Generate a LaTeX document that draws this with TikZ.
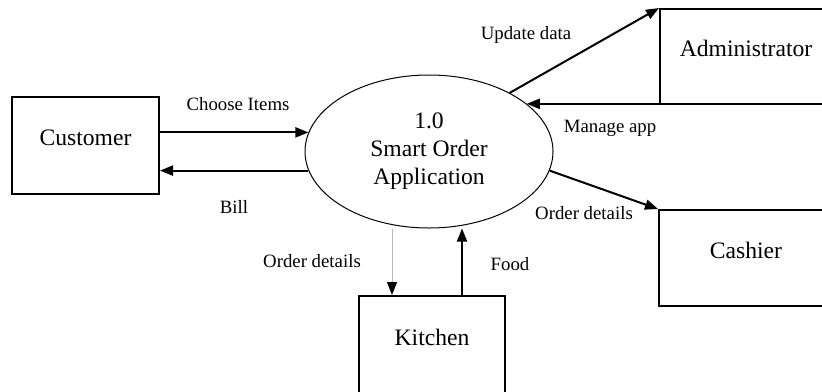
\documentclass[tikz,border=0pt]{standalone}
\usepackage{fontspec}
\setmainfont{Liberation Serif}
\usetikzlibrary{shapes.geometric,arrows.meta}
\begin{document}
\begin{tikzpicture}[x=0.5pt,y=-0.5pt,
    >={Triangle[length=6.5pt,width=5pt]},
    box/.style={draw,line width=1pt,inner sep=0pt,text height=8pt,text depth=8pt,
      font=\fontsize{11.8}{14}\selectfont},
    flow/.style={line width=1pt,->},
    lbl/.style={inner sep=0pt,font=\fontsize{9.4}{11}\selectfont}]
  \useasboundingbox (0,0) rectangle (822,391);
  \clip (0,0) rectangle (822,391);
  % process and entities
  \node [draw,ellipse,line width=0.5pt,inner sep=0pt,minimum width=124pt,
    minimum height=76.5pt,align=center,font=\fontsize{11.8}{14}\selectfont]
    (app) at (429,151.5) {1.0\\Smart Order\\Application};
  \node [box,minimum width=73.5pt,minimum height=48.5pt] (cust) at (85.5,145.5) {Customer};
  \node [box,minimum width=86pt,minimum height=47.5pt] (admin) at (746,56.5) {Administrator};
  \node [box,minimum width=87pt,minimum height=48pt] (cash) at (746,258) {Cashier};
  \node [box,minimum width=73pt,minimum height=49pt] (kit) at (432,345) {Kitchen};
  % flows
  \draw [flow] (app.171 -| cust.east) -- (app.171);
  \draw [flow] (app.189) -- (app.189 -| cust.east);
  \draw [flow] (app.36) -- (admin.north west);
  \draw [flow] (app.26 -| admin.west) -- (app.26);
  \draw [flow] (app.-9) -- (cash.north west);
  \coordinate (kin) at ([xshift=-20pt]kit.north);
  \coordinate (kout) at ([xshift=15pt]kit.north);
  \draw [->,line width=0.5pt,draw=gray!55,>={Triangle[length=6.5pt,width=5pt,color=black]}]
    (kin |- app.south) -- (kin);
  \draw [flow] (kout) -- (kout |- app.south);
  % labels
  \node [lbl] (lchoose) at (238,104) {Choose Items};
  \node [lbl] (lbill) at (234,207) {Bill};
  \node [lbl] (lupdate) at (526,35) {Update data};
  \node [lbl] (lmanage) at (610,128) {Manage app};
  \node [lbl] (lcash) at (584,213) {Order details};
  \node [lbl] (lkit) at (312,261) {Order details};
  \node [lbl] (lfood) at (510,264) {Food};
\end{tikzpicture}
\end{document}
